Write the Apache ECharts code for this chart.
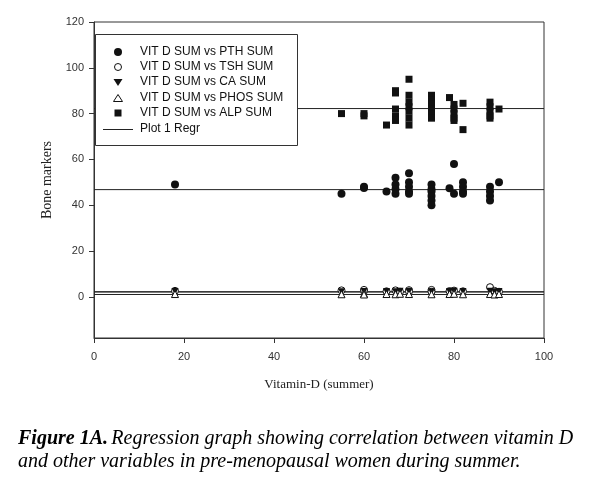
<!DOCTYPE html>
<html>
<head>
<meta charset="utf-8">
<script src="https://cdn.jsdelivr.net/npm/echarts@6/dist/echarts.min.js"></script>
<style>html,body{margin:0;padding:0;background:#fff;}#c{width:610px;height:481px;}</style>
</head>
<body>
<div id="c"></div>
<script>
// ---- data ----
var xTicks = [0, 20, 40, 60, 80, 100];
var yTicks = [0, 20, 40, 60, 80, 100, 120];
var legendNames = ['VIT D SUM vs PTH SUM', 'VIT D SUM vs TSH SUM', 'VIT D SUM vs CA SUM', 'VIT D SUM vs PHOS SUM', 'VIT D SUM vs ALP SUM', 'Plot 1 Regr'];

var pthPoints = [[18,49],[55,45],[60,48],[60,47.5],[65,46],[67,52],[67,49],[67,47],[67,45],[70,54],[70,50],[70,48],[70,46],[70,45],[75,49],[75,47],[75,46],[75,44],[75,42],[75,40],[79,47.4],[80,58],[80,45],[82,50],[82,48],[82,46],[82,45],[88,48],[88,46],[88,44],[88,42],[90,50]];
var tshPoints = [[18,2.6],[55,2.8],[60,2.5],[60,3.0],[65,2.4],[67,2.8],[68,2.2],[70,2.9],[70,2.3],[75,3.0],[75,2.2],[79,2.5],[80,2.7],[82,2.4],[88,4.2],[89,2.6],[90,2.2]];
var caPoints = [[18,2.3],[55,2.2],[60,2.3],[65,2.3],[67,2.2],[68,2.4],[70,2.3],[75,2.2],[79,2.3],[80,2.4],[82,2.3],[88,2.4],[89,2.2],[90,2.3]];
var phosPoints = [[18,1.2],[55,1.1],[60,1.3],[60,1.0],[65,1.2],[67,1.1],[68,1.3],[70,1.2],[75,1.1],[79,1.2],[80,1.3],[82,1.1],[88,1.2],[89,1.0],[90,1.2]];
var alpPoints = [[55,80],[60,79],[60,80],[65,75],[67,90],[67,89],[67,82],[67,79],[67,77],[70,95],[70,88],[70,85],[70,83],[70,81],[70,78],[70,75],[75,88],[75,86],[75,84],[75,82],[75,80],[75,78],[79,87],[80,84],[80,82],[80,80],[80,78],[80,77],[82,84.5],[82,73],[88,85],[88,83],[88,81],[88,79],[88,78],[90,82]];

var regrALP = [[0,82.2],[100,82.2]];
var regrPTH = [[0,46.8],[100,46.8]];
var regrTSH = [[0,2.2],[100,2.2]];
var regrCA = [[0,2.1],[100,2.1]];
var regrPHOS = [[0,1.0],[100,1.0]];

// ---- chart ----
var ink = '#111';
var chart = echarts.init(document.getElementById('c'), null, {renderer: 'canvas'});

function regr(d) {
  return {name: legendNames[5], type: 'line', data: d, symbol: 'none', silent: true,
    lineStyle: {color: '#222', width: 1}, itemStyle: {color: '#222'}, z: 1};
}

var lgFont = {fontFamily: 'Liberation Sans', fontSize: 12, fill: ink};
function lgText(i, y) {
  return {type: 'text', x: 140, y: y, z: 21, style: Object.assign({text: legendNames[i], verticalAlign: 'middle', align: 'left'}, lgFont)};
}

var option = {
  backgroundColor: '#fff',
  animation: false,
  grid: {left: 94, right: 66, top: 22, bottom: 143, show: true, borderColor: '#333', borderWidth: 1, backgroundColor: 'transparent'},
  xAxis: {
    type: 'value', min: 0, max: 100, interval: 20,
    name: 'Vitamin-D (summer)', nameLocation: 'middle', nameGap: 40,
    nameTextStyle: {fontFamily: 'Liberation Serif', fontSize: 13, color: '#222'},
    axisLine: {show: true, onZero: false, lineStyle: {color: '#333', width: 1}},
    axisTick: {show: true, length: 5, lineStyle: {color: '#333'}},
    axisLabel: {margin: 13, fontFamily: 'Liberation Sans', fontSize: 11, color: '#333'},
    splitLine: {show: false}
  },
  yAxis: {
    type: 'value', min: -18, max: 120,
    name: 'Bone markers', nameLocation: 'middle', nameGap: 40, nameRotate: 90,
    nameTextStyle: {fontFamily: 'Liberation Serif', fontSize: 14, color: '#222'},
    axisLine: {show: true, onZero: false, lineStyle: {color: '#333', width: 1}},
    axisTick: {show: true, length: 5, lineStyle: {color: '#333'}, customValues: yTicks},
    axisLabel: {margin: 10, fontFamily: 'Liberation Sans', fontSize: 11, color: '#333', customValues: yTicks},
    splitLine: {show: false}
  },
  series: [
    regr(regrALP), regr(regrPTH), regr(regrTSH), regr(regrCA), regr(regrPHOS),
    {name: legendNames[0], type: 'scatter', data: pthPoints, symbol: 'circle', symbolSize: 8,
      itemStyle: {color: ink, opacity: 1}, z: 3},
    {name: legendNames[1], type: 'scatter', data: tshPoints, symbol: 'circle', symbolSize: 7,
      itemStyle: {color: '#fff', borderColor: ink, borderWidth: 1, opacity: 1}, z: 3},
    {name: legendNames[2], type: 'scatter', data: caPoints, symbol: 'triangle', symbolRotate: 180, symbolSize: 7,
      itemStyle: {color: ink, opacity: 1}, z: 4},
    {name: legendNames[3], type: 'scatter', data: phosPoints, symbol: 'triangle', symbolSize: 7,
      itemStyle: {color: '#fff', borderColor: ink, borderWidth: 1, opacity: 1}, z: 5},
    {name: legendNames[4], type: 'scatter', data: alpPoints, symbol: 'rect', symbolSize: 7,
      itemStyle: {color: ink, opacity: 1}, z: 3}
  ],
  graphic: [
    // legend box
    {type: 'rect', z: 20, shape: {x: 95.5, y: 34.5, width: 202, height: 111}, style: {fill: '#fff', stroke: '#333', lineWidth: 1}},
    {type: 'circle', z: 21, shape: {cx: 118, cy: 52, r: 4}, style: {fill: ink}},
    lgText(0, 52),
    {type: 'circle', z: 21, shape: {cx: 118, cy: 67, r: 3.5}, style: {fill: '#fff', stroke: ink, lineWidth: 1}},
    lgText(1, 67),
    {type: 'polygon', z: 21, shape: {points: [[113.5, 79], [122.5, 79], [118, 86]]}, style: {fill: ink}},
    lgText(2, 82),
    {type: 'polygon', z: 21, shape: {points: [[118, 94.5], [122.5, 101.5], [113.5, 101.5]]}, style: {fill: '#fff', stroke: ink, lineWidth: 1}},
    lgText(3, 98),
    {type: 'rect', z: 21, shape: {x: 114.5, y: 109.5, width: 7, height: 7}, style: {fill: ink}},
    lgText(4, 113),
    {type: 'line', z: 21, shape: {x1: 103, y1: 129.5, x2: 133, y2: 129.5}, style: {stroke: '#222', lineWidth: 1}},
    lgText(5, 129),
    // caption
    {type: 'text', left: 18, top: 429, z: 10,
      style: {
        text: '{b|Figure 1A.} {i|Regression graph showing correlation between vitamin D}',
        rich: {
          b: {fontFamily: 'Liberation Serif', fontStyle: 'italic', fontWeight: 'bold', fontSize: 20, fill: '#000'},
          i: {fontFamily: 'Liberation Serif', fontStyle: 'italic', fontSize: 20, fill: '#000'}
        }
      }},
    {type: 'text', left: 18, top: 452, z: 10,
      style: {text: 'and other variables in pre-menopausal women during summer.',
        fontFamily: 'Liberation Serif', fontStyle: 'italic', fontSize: 20, fill: '#000'}}
  ]
};
chart.setOption(option);
</script>
</body>
</html>
